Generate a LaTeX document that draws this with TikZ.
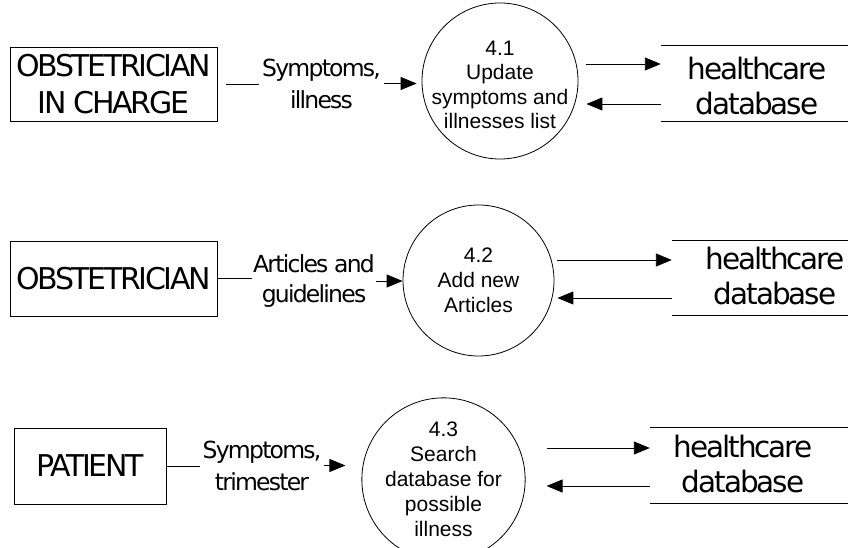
\documentclass[tikz,border=0pt]{standalone}
\usepackage{fontspec}
\newfontfamily\entfont[LetterSpace=-8]{DejaVu Sans}
\newfontfamily\storefont[LetterSpace=-7]{DejaVu Sans}
\newfontfamily\lblfont[LetterSpace=-7.5]{DejaVu Sans}
\newfontfamily\arialfont{Liberation Sans}
\usetikzlibrary{arrows.meta,calc}
\tikzset{
  entity/.style={draw, line width=0.9pt, rectangle, inner sep=0pt, align=center,
    font=\entfont\fontsize{30}{37}\selectfont},
  proc/.style={draw, line width=0.8pt, circle, inner sep=0pt, align=center,
    font=\arialfont\fontsize{21}{25}\selectfont},
  proctext/.style={inner sep=0pt, align=center, font=\arialfont\fontsize{21}{24.5}\selectfont},
  storebox/.style={rectangle, inner sep=0pt},
  storetext/.style={inner sep=0pt, align=center, font=\storefont\fontsize{29.5}{35}\selectfont},
  flowlabel/.style={inner ysep=0pt, inner xsep=2.5pt, align=center},
  arr/.style={line width=0.9pt, -{Triangle[length=16pt,width=13pt]}},
  plain/.style={line width=0.9pt},
  storeline/.style={line width=0.9pt}
}
\begin{document}
\begin{tikzpicture}[x=1pt,y=-1pt]
\useasboundingbox (0,0) rectangle (848,548);

% ---------- Row 1 ----------
\node[entity, minimum width=207pt, minimum height=74pt] (e1) at (113.5,84) {OBSTETRICIAN\\IN CHARGE};
\node[flowlabel, font=\lblfont\fontsize{23.5}{32}\selectfont] (l1) at (321.5,83.5) {Symptoms,\\illness};
\node[proc, minimum size=156pt] (p1) at (500,81) {};
\node[proctext] (p1t) at (500,85) {4.1\\Update\\symptoms and\\illnesses list};
\node[storebox, minimum width=187pt, minimum height=75pt] (s1) at (754.5,83.5) {};
\node[storetext] (t1) at (757,86.5) {healthcare\\database};
\draw[storeline] (s1.north west) -- (s1.north east);
\draw[storeline] (s1.south west) -- (s1.south east);
\draw[plain, shorten <=9pt] (e1.east) -- (e1.east -| l1.west);
\draw[arr, shorten >=5pt] (l1.east) -- (l1.east -| p1.west);
\coordinate (a1) at ([xshift=8pt,yshift=17pt]p1.east);
\coordinate (b1) at ([xshift=8pt,yshift=-23pt]p1.east);
\draw[arr] (a1) -- (a1 -| s1.west);
\draw[arr] (b1 -| s1.west) -- (b1);

% ---------- Row 2 ----------
\node[entity, minimum width=207pt, minimum height=75pt] (e2) at (113.5,278.5) {OBSTETRICIAN};
\node[flowlabel, inner xsep=1pt, font=\lblfont\fontsize{23.5}{30}\selectfont] (l2) at (314,281) {Articles and\\guidelines};
\node[proc, minimum size=151pt] (p2) at (478.5,280.5) {4.2\\Add new\\Articles};
\node[storebox, minimum width=176pt, minimum height=74.5pt] (s2) at (760,278.25) {};
\node[storetext] (t2) at (775,276.5) {healthcare\\database};
\draw[storeline] (s2.north west) -- (s2.north east);
\draw[storeline] (s2.south west) -- (s2.south east);
\draw[plain] (e2.east) -- (e2.east -| l2.west);
\draw[arr] (l2.east) -- (l2.east -| p2.west);
\coordinate (a2) at ([xshift=3pt,yshift=20.5pt]p2.east);
\coordinate (b2) at ([xshift=3pt,yshift=-17.5pt]p2.east);
\draw[arr] (a2) -- (a2 -| s2.west);
\draw[arr] (b2 -| s2.west) -- (b2);

% ---------- Row 3 ----------
\node[entity, minimum width=152pt, minimum height=76pt] (e3) at (90,466) {PATIENT};
\node[flowlabel, font=\lblfont\fontsize{23.5}{32}\selectfont] (l3) at (262,465.5) {Symptoms,\\trimester};
\node[proc, minimum size=141pt] (p3) at (443.5,479.5) {4.3\\Search\\database for\\possible\\illness};
\node[storebox, minimum width=198pt, minimum height=75pt] (s3) at (749,465.5) {};
\node[storetext] (t3) at (743,463.5) {healthcare\\database};
\draw[storeline] (s3.north west) -- (s3.north east);
\draw[storeline] (s3.south west) -- (s3.south east);
\draw[plain] (e3.east) -- (e3.east -| l3.west);
\draw[arr, shorten >=16pt] (l3.east) -- (l3.east -| p3.west);
\coordinate (a3) at ([xshift=21pt,yshift=31.5pt]p3.east);
\coordinate (b3) at ([xshift=21pt,yshift=-6.5pt]p3.east);
\draw[arr] (a3) -- (a3 -| s3.west);
\draw[arr] (b3 -| s3.west) -- (b3);
\end{tikzpicture}
\end{document}
